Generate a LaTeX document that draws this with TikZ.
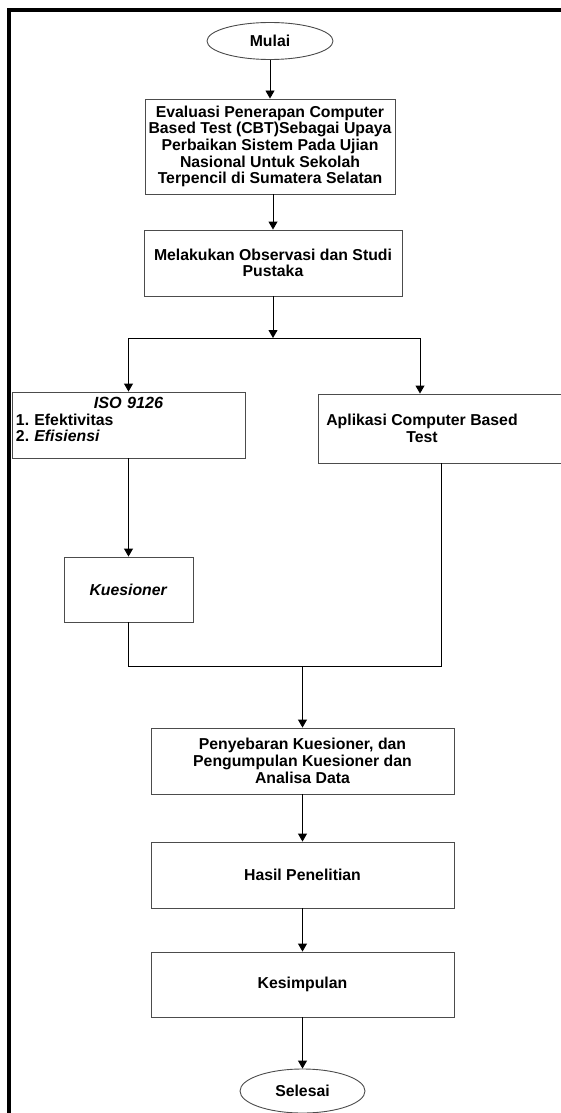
\documentclass[tikz,border=0pt]{standalone}
\usepackage{fontspec}
\setmainfont{Liberation Sans}
\usetikzlibrary{shapes.geometric,arrows.meta}
\frenchspacing
\begin{document}
\begin{tikzpicture}
        [x=1pt,y=-1pt,
         every node/.style={font=\fontsize{15.8}{16.7}\selectfont\bfseries},
         box/.style={draw=black!70,line width=0.9pt,rectangle,align=center,inner sep=1pt},
         term/.style={draw=black!70,line width=0.9pt,ellipse,inner sep=0pt},
         arr/.style={line width=0.9pt,-{Triangle[width=9pt,length=8pt]}},
         link/.style={line width=0.9pt}]

        \useasboundingbox (0,0) rectangle (561,1113);
        \draw[line width=4pt] (9,1130) -- (9,10) -- (580,10);

        \node[term,minimum width=126pt,minimum height=37pt] (mulai) at (270,41) {Mulai};
        \node[box,minimum width=250pt,minimum height=95pt] (eval) at (270,146.5)
          {Evaluasi Penerapan Computer\\Based Test (CBT)Sebagai Upaya\\Perbaikan Sistem Pada Ujian\\Nasional Untuk Sekolah\\Terpencil di Sumatera Selatan};
        \node[box,minimum width=258pt,minimum height=66pt] (obs) at (273,263)
          {Melakukan Observasi dan Studi\\Pustaka};
        \node[box,text width=225pt,align=left,inner xsep=4pt,inner ysep=2pt,minimum height=66pt] (iso) at (128.5,425)
          {\centering\rule{0pt}{14pt}{\fontsize{16.2}{17}\selectfont\textit{ISO 9126}}\par\raggedright 1. Efektivitas\\2. \textit{Efisiensi}\rule[-14pt]{0pt}{0pt}};
        \node[box,minimum width=246pt,minimum height=69pt] (apl) at (441,428.5)
          {\parbox{206pt}{\centering Aplikasi Computer Based\\Test}\hspace{38pt}};
        \node[box,minimum width=129pt,minimum height=65pt] (kues) at (128.5,589.5) {\textit{Kuesioner}};
        \node[box,minimum width=303pt,minimum height=66pt] (peny) at (302.5,761)
          {Penyebaran Kuesioner, dan\\Pengumpulan Kuesioner dan\\Analisa Data};
        \node[box,minimum width=303pt,minimum height=66pt] (hasil) at (302.5,875) {Hasil Penelitian};
        \node[box,minimum width=303pt,minimum height=65pt] (kesim) at (302.5,984.5) {Kesimpulan};
        \node[term,minimum width=125pt,minimum height=44pt] (selesai) at (302.5,1091) {Selesai};

        \coordinate (split) at (273,338);
        \coordinate (merge) at (302.5,666);

        \draw[arr] (mulai) -- (eval);
        \draw[arr] (eval.south -| obs) -- (obs);
        \draw[arr] (obs) -- (split);
        \draw[arr] (split) -| (iso);
        \draw[arr] (split) -| ([xshift=-21pt]apl.north);
        \draw[arr] (iso) -- (kues);
        \draw[link] (kues) |- (merge);
        \draw[link] (apl) |- (merge);
        \draw[arr] (merge) -- (peny);
        \draw[arr] (peny) -- (hasil);
        \draw[arr] (hasil) -- (kesim);
        \draw[arr] (kesim) -- (selesai);
      \end{tikzpicture}
\end{document}
